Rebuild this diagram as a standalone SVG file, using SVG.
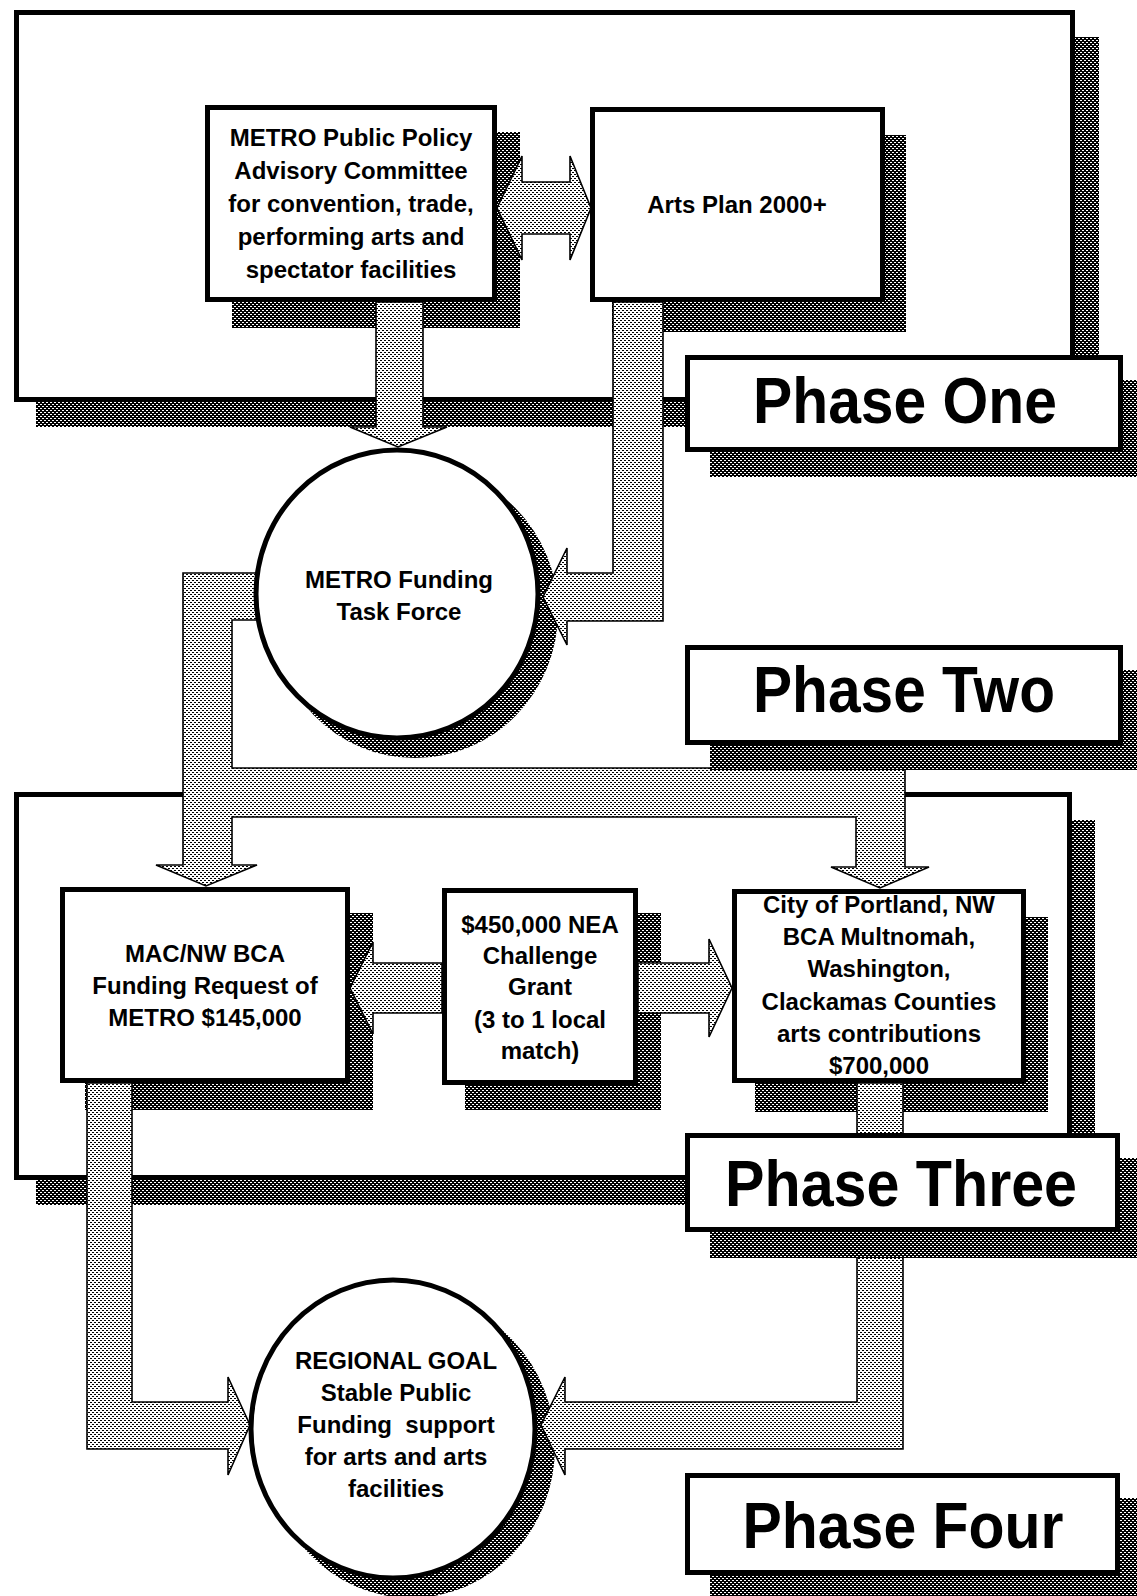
<svg xmlns="http://www.w3.org/2000/svg" width="1137" height="1596" viewBox="0 0 1137 1596">
<defs>
<pattern id="shade" width="4" height="4" patternUnits="userSpaceOnUse">
<rect width="4" height="4" fill="#000"/>
<rect x="0" y="0" width="2" height="1" fill="#fff"/>
<rect x="2" y="2" width="2" height="1" fill="#fff"/>
</pattern>
<pattern id="dots" width="4" height="4" patternUnits="userSpaceOnUse">
<rect width="4" height="4" fill="#fff"/>
<rect x="0" y="0" width="2" height="1" fill="#000"/>
<rect x="2" y="2" width="2" height="1" fill="#000"/>
</pattern>
<style>
.frame{fill:#fff;stroke:#000;stroke-width:5}
.box{fill:#fff;stroke:#000;stroke-width:5}
.shadow{fill:url(#shade)}
.conn{fill:url(#dots);stroke:#000;stroke-width:1.6;stroke-linejoin:miter}
.t{font-family:"Liberation Sans",Arial,sans-serif;font-weight:bold;font-size:24px;text-anchor:middle;fill:#000}
.ph{font-family:"Liberation Sans",Arial,sans-serif;font-weight:bold;font-size:64px;text-anchor:middle;fill:#000}
</style>
</defs>
<rect width="1137" height="1596" fill="#fff"/>

<g id="frame-phase-one">
<rect class="shadow" x="36" y="37" width="1063" height="390"/>
<rect class="frame" x="16.5" y="12.5" width="1056" height="387"/>
</g>
<g id="frame-phase-three">
<rect class="shadow" x="36" y="820" width="1059" height="385"/>
<rect class="frame" x="16.5" y="794.5" width="1053" height="383"/>
</g>

<g id="shadows">
<rect class="shadow" x="232" y="132" width="288" height="196"/>
<rect class="shadow" x="612" y="135" width="294" height="197"/>
<rect class="shadow" x="85" y="913" width="288" height="197"/>
<rect class="shadow" x="465" y="913" width="196" height="197"/>
<rect class="shadow" x="755" y="917" width="293" height="195"/>
<ellipse class="shadow" cx="415" cy="612" rx="143" ry="146"/>
<ellipse class="shadow" cx="411" cy="1447" rx="144" ry="151"/>
</g>

<g id="ppac">
<rect class="box" x="207.5" y="107.5" width="287" height="192"/>
<text class="t" x="351" y="146">METRO Public Policy</text>
<text class="t" x="351" y="179">Advisory Committee</text>
<text class="t" x="351" y="212">for convention, trade,</text>
<text class="t" x="351" y="245">performing arts and</text>
<text class="t" x="351" y="278">spectator facilities</text>
</g>
<g id="arts-plan">
<rect class="box" x="592.5" y="109.5" width="290" height="190"/>
<text class="t" x="737" y="213">Arts Plan 2000+</text>
</g>
<g id="mac">
<rect class="box" x="62.5" y="889.5" width="285" height="191"/>
<text class="t" x="205" y="962">MAC/NW BCA</text>
<text class="t" x="205" y="994">Funding Request of</text>
<text class="t" x="205" y="1026">METRO $145,000</text>
</g>
<g id="nea">
<rect class="box" x="444.5" y="890.5" width="191" height="192"/>
<text class="t" x="540" y="933">$450,000 NEA</text>
<text class="t" x="540" y="964">Challenge</text>
<text class="t" x="540" y="995">Grant</text>
<text class="t" x="540" y="1028">(3 to 1 local</text>
<text class="t" x="540" y="1059">match)</text>
</g>
<g id="city">
<rect class="box" x="734.5" y="891.5" width="289" height="189"/>
<text class="t" x="879" y="913">City of Portland, NW</text>
<text class="t" x="879" y="945">BCA Multnomah,</text>
<text class="t" x="879" y="977">Washington,</text>
<text class="t" x="879" y="1010">Clackamas Counties</text>
<text class="t" x="879" y="1042">arts contributions</text>
<text class="t" x="879" y="1074">$700,000</text>
</g>

<g id="connectors">
<path class="conn" d="M497,208 L522,156 L522,182 L570,182 L570,156 L591,208 L570,260 L570,234 L522,234 L522,260 Z"/>
<path class="conn" d="M376,302 L423,302 L423,427 L447,427 L398,447 L350,427 L376,427 Z"/>
<path class="conn" d="M613,302 L663,302 L663,621 L567,621 L567,645 L543,597 L567,548 L567,573 L613,573 Z"/>
<path class="conn" d="M300,573 L183,573 L183,865 L156,865 L206,886 L257,865 L232,865 L232,817 L856,817 L856,867 L831,867 L880,888 L929,867 L905,867 L905,768 L232,768 L232,620 L300,620 Z"/>
<path class="conn" d="M350,988 L373,942 L373,963 L442,963 L442,1013 L373,1013 L373,1034 Z"/>
<path class="conn" d="M638,963 L709,963 L709,939 L732,988 L709,1037 L709,1013 L638,1013 Z"/>
<path class="conn" d="M87,1083 L132,1083 L132,1402 L228,1402 L228,1377 L250,1425 L228,1475 L228,1449 L87,1449 Z"/>
<path class="conn" d="M857,1083 L903,1083 L903,1449 L565,1449 L565,1475 L541,1425 L565,1377 L565,1402 L857,1402 Z"/>
</g>

<g id="task-force">
<ellipse class="box" cx="397" cy="594" rx="141" ry="144"/>
<text class="t" x="399" y="588">METRO Funding</text>
<text class="t" x="399" y="620">Task Force</text>
</g>
<g id="regional-goal">
<ellipse class="box" cx="393" cy="1429" rx="142" ry="149"/>
<text class="t" x="396" y="1369">REGIONAL GOAL</text>
<text class="t" x="396" y="1401">Stable Public</text>
<text class="t" x="396" y="1433" style="white-space:pre">Funding  support</text>
<text class="t" x="396" y="1465">for arts and arts</text>
<text class="t" x="396" y="1497">facilities</text>
</g>

<g id="phase-one">
<rect class="shadow" x="710" y="380" width="440" height="97"/>
<rect class="box" x="687.5" y="357.5" width="433" height="92"/>
<text class="ph" x="905" y="423" textLength="304" lengthAdjust="spacingAndGlyphs">Phase One</text>
</g>
<g id="phase-two">
<rect class="shadow" x="710" y="670" width="440" height="100"/>
<rect class="box" x="687.5" y="647.5" width="433" height="95"/>
<text class="ph" x="904" y="712" textLength="302" lengthAdjust="spacingAndGlyphs">Phase Two</text>
</g>
<g id="phase-three">
<rect class="shadow" x="710" y="1158" width="440" height="100"/>
<rect class="box" x="687.5" y="1135.5" width="430" height="94"/>
<text class="ph" x="901" y="1206" textLength="352" lengthAdjust="spacingAndGlyphs">Phase Three</text>
</g>
<g id="phase-four">
<rect class="shadow" x="710" y="1498" width="440" height="102"/>
<rect class="box" x="687.5" y="1475.5" width="430" height="97"/>
<text class="ph" x="903" y="1548" textLength="321" lengthAdjust="spacingAndGlyphs">Phase Four</text>
</g>
</svg>
